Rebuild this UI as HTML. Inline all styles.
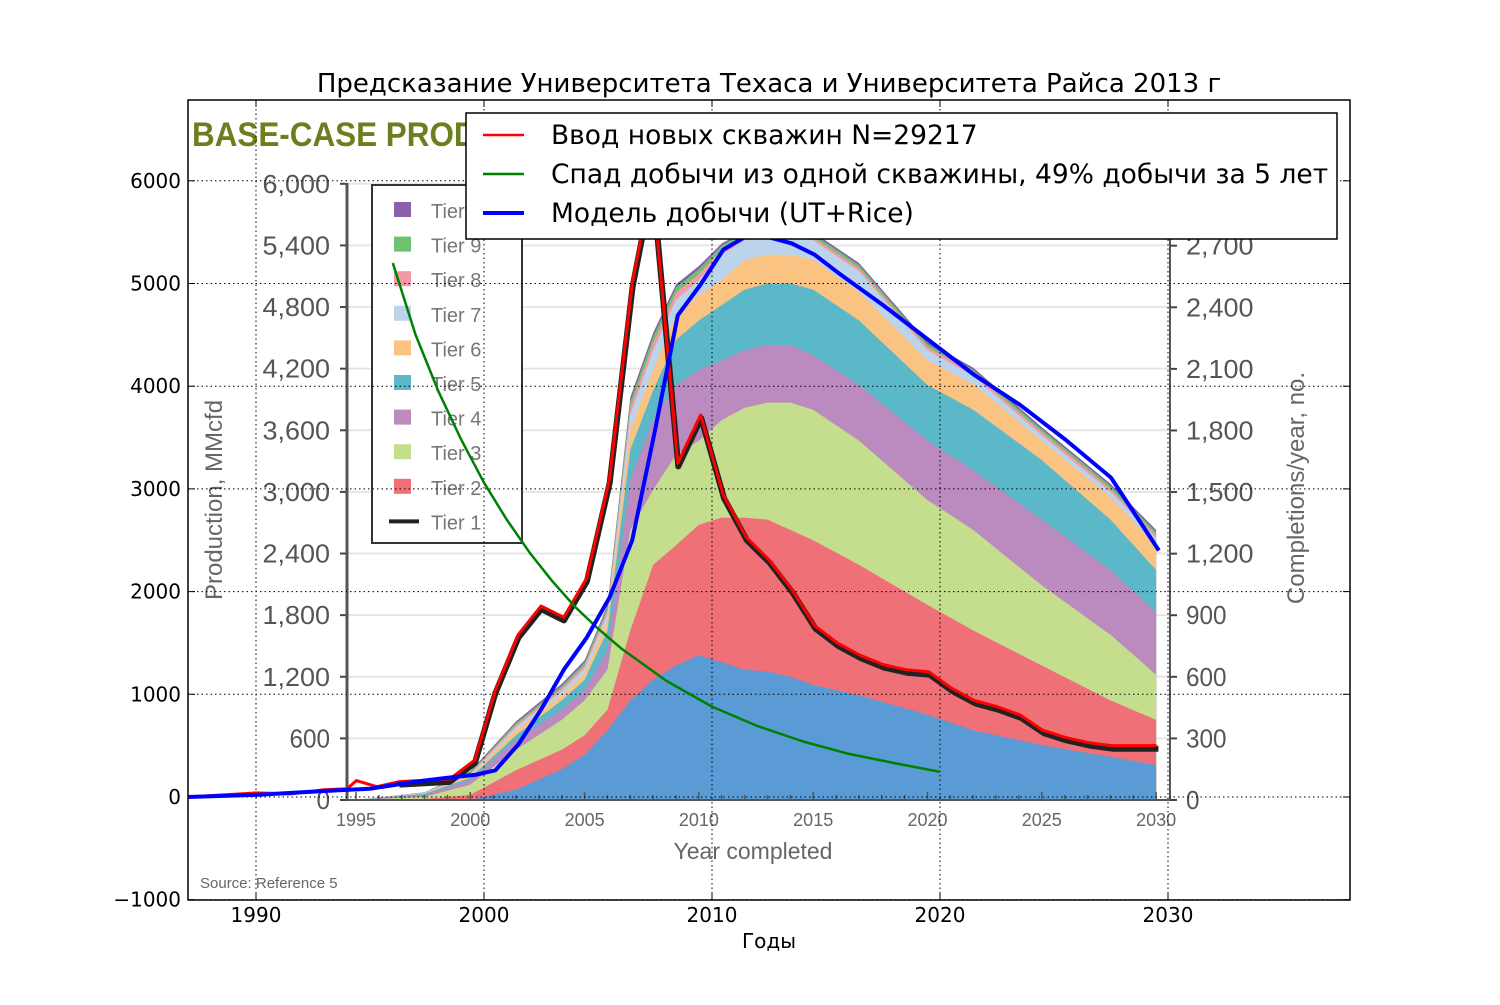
<!DOCTYPE html>
<html><head><meta charset="utf-8"><style>
body{margin:0;background:#fff}
svg text{font-family:"Liberation Sans","DejaVu Sans",sans-serif}
svg text.dv{font-family:"DejaVu Sans","Liberation Sans",sans-serif}
</style></head><body>
<svg id="chart" width="1500" height="1000">
<defs><clipPath id="plotclip"><rect x="188" y="100" width="1162" height="800"/></clipPath></defs>
<rect width="1500" height="1000" fill="#fff"/>
<g id="inner" clip-path="url(#plotclip)"></g>
<g id="outer"></g>
</svg>
<script>
// ---- inner (background) chart data ----
const tierYears=[1995,1998,2000,2002,2004,2005,2006,2007,2008,2009,2010,2011,2012,2013,2014,2015,2017,2020,2022,2025,2028,2030];
const tier1Top=[0,0,0,100,300,440,680,970,1170,1310,1410,1340,1270,1250,1200,1120,1020,830,680,535,420,340];
const tier2Top=[0,10,50,290,490,630,880,1650,2290,2480,2680,2750,2750,2730,2630,2530,2290,1900,1650,1310,970,780];
const tier3Top=[0,30,150,490,780,970,1270,2630,3020,3360,3500,3700,3820,3870,3870,3800,3500,2920,2630,2090,1610,1220];
const tier4Top=[0,50,195,585,880,1070,1460,3120,3700,4040,4190,4280,4380,4430,4430,4330,4040,3500,3210,2730,2240,1830];
const tier5Top=[0,60,215,630,970,1170,1650,3410,3990,4480,4670,4820,4970,5030,5030,4970,4670,4040,3800,3310,2730,2240];
const tier6Top=[0,65,235,680,1020,1230,1750,3600,4190,4720,4920,5060,5260,5310,5310,5260,4950,4280,4050,3500,2950,2480];
const tier7Top=[0,70,250,710,1060,1280,1810,3750,4380,4870,5060,5310,5450,5500,5480,5450,5150,4380,4130,3550,3000,2550];
const tier8Top=[0,72,260,730,1090,1310,1850,3820,4450,4940,5120,5360,5490,5530,5510,5480,5180,4410,4160,3580,3030,2580];
const tier9Top=[0,74,270,750,1110,1340,1880,3880,4510,4990,5170,5400,5520,5560,5540,5510,5210,4440,4190,3610,3060,2610];
const tier10Top=[0,76,280,765,1130,1360,1900,3920,4550,5020,5200,5420,5540,5580,5560,5530,5230,4460,4210,3630,3080,2630];
const tierColors=['#5b9bd5','#f07078','#c5de8e','#bb8abf','#5bb8c8','#fbc381','#bcd3ec','#f29aa8','#6fc070','#8860ac'];
const blackYears=[1996.9,1999.1,2000.2,2001.1,2002.1,2003.1,2004.1,2005.1,2006.1,2007.1,2007.6,2008.1,2009.1,2010.1,2011.1,2012.1,2013.1,2014.1,2015.1,2016.1,2017.1,2018.1,2019.1,2020.1,2021.1,2022.1,2023.1,2024.1,2025.1,2026.1,2027.1,2028.1,2030.1];
const blackVals=[75,88,180,520,790,930,875,1065,1545,2500,2785,2850,1625,1860,1470,1265,1155,1010,835,750,690,645,620,610,530,470,440,400,325,290,265,250,250];
const innerYTicks=['0','600','1,200','1,800','2,400','3,000','3,600','4,200','4,800','5,400','6,000'];
const innerRTicks=['0','300','600','900','1,200','1,500','1,800','2,100','2,400','2,700'];
const innerXTicks=['1995','2000','2005','2010','2015','2020','2025','2030'];
const innerLegend=['Tier 10','Tier 9','Tier 8','Tier 7','Tier 6','Tier 5','Tier 4','Tier 3','Tier 2','Tier 1'];
// ---- outer chart data ----
const redYears=[1987,1990,1991.5,1993,1994,1994.4,1995.3,1996.3,1998.5,1999.6,2000.5,2001.5,2002.5,2003.5,2004.5,2005.5,2006.5,2007,2007.5,2008.5,2009.5,2010.5,2011.5,2012.5,2013.5,2014.5,2015.5,2016.5,2017.5,2018.5,2019.5,2020.5,2021.5,2022.5,2023.5,2024.5,2025.5,2026.5,2027.5,2029.5];
const redVals=[0,40,30,70,80,160,100,150,175,360,1040,1580,1860,1750,2130,3090,5000,5570,5700,3250,3720,2940,2530,2310,2020,1670,1500,1380,1290,1240,1220,1060,940,880,800,650,580,530,500,500];
const greenYears=[1996,1997,1998,1999,2000,2001,2002,2003,2004,2005,2006,2008,2010,2012,2014,2016,2018,2020];
const greenVals=[5200,4500,3950,3480,3060,2700,2380,2100,1850,1640,1450,1130,880,690,540,420,330,245];
const blueYears=[1987,1990,1993.2,1995,1997,1998.5,1999.6,2000.5,2001.5,2002.5,2003.5,2004.5,2005.5,2006.5,2007.5,2008.5,2009.5,2010.5,2011.5,2012.5,2013.5,2014.5,2015.5,2017.5,2019.5,2021.5,2023.5,2025.5,2027.5,2029.6];
const blueVals=[0,20,60,80,150,190,215,260,510,850,1240,1550,1940,2500,3570,4690,4990,5330,5460,5450,5390,5280,5110,4790,4450,4110,3820,3480,3110,2400];
const outerXTicks=[1990,2000,2010,2020,2030];
const outerYTicks=[-1000,0,1000,2000,3000,4000,5000,6000];
const legendLabels=['Ввод новых скважин N=29217','Спад добычи из одной скважины, 49% добычи за 5 лет','Модель добычи (UT+Rice)'];
const legendColors=['#ff0000','#008000','#0000ff'];

const NS='http://www.w3.org/2000/svg';
function mk(tag,attrs,parent,text){const e=document.createElementNS(NS,tag);for(const k in attrs)e.setAttribute(k,attrs[k]);if(text!==undefined)e.textContent=text;parent.appendChild(e);return e;}
const X=y=>484+(y-2000)*22.8, Y=v=>797-v*0.1027;
const XI=y=>356+(y-1995)*22.86, YI=v=>800-v*0.1027, YR=c=>800-c*0.2053;
const inner=document.getElementById('inner'), outer=document.getElementById('outer');

innerYTicks.forEach((t,i)=>{const yy=YI(i*600);
 if(i>0){const g=mk('line',{x1:347,x2:1170,y1:yy,y2:yy,stroke:'#e6e6e6','stroke-width':2},inner);
 }
 const l=mk('text',{x:330,y:yy+9,'text-anchor':'end','font-size':26,fill:'#555',textLength:t.length*13.5,lengthAdjust:'spacingAndGlyphs'},inner,t);
 
 mk('line',{x1:340,x2:347,y1:yy,y2:yy,stroke:'#444','stroke-width':2},inner);});
innerRTicks.forEach((t,i)=>{const yy=YR(i*300);
 const l=mk('text',{x:1186,y:yy+9,'font-size':26,fill:'#555',textLength:t.length*13.5,lengthAdjust:'spacingAndGlyphs'},inner,t);
 
 mk('line',{x1:1170,x2:1177,y1:yy,y2:yy,stroke:'#444','stroke-width':2},inner);});
const tops=[tier1Top,tier2Top,tier3Top,tier4Top,tier5Top,tier6Top,tier7Top,tier8Top,tier9Top,tier10Top];
for(let k=tops.length-1;k>=0;k--){
 let d='M'+XI(tierYears[0])+','+YI(0);
 tierYears.forEach((y,i)=>{d+=' L'+XI(y).toFixed(1)+','+YI(tops[k][i]).toFixed(1);});
 d+=' L'+XI(tierYears[tierYears.length-1])+','+YI(0)+' Z';
 const a=mk('path',{d:d,fill:tierColors[k]},inner);
 }
mk('line',{x1:347,x2:347,y1:183,y2:800,stroke:'#555','stroke-width':3},inner);
mk('line',{x1:347,x2:1170,y1:800,y2:800,stroke:'#555','stroke-width':2},inner);
mk('line',{x1:1170,x2:1170,y1:183,y2:800,stroke:'#555','stroke-width':2},inner);
for(let y=1995;y<=2030;y++){mk('line',{x1:XI(y),x2:XI(y),y1:800,y2:y%5?795:792,stroke:'#555','stroke-width':1.5},inner);}
innerXTicks.forEach(t=>{const l=mk('text',{x:XI(+t),y:826,'text-anchor':'middle','font-size':18,fill:'#666'},inner,t);
 });
let tt=mk('text',{x:753,y:859,'text-anchor':'middle','font-size':23,fill:'#666'},inner,'Year completed');

tt=mk('text',{x:0,y:0,transform:'translate(222,500) rotate(-90)','text-anchor':'middle','font-size':24,fill:'#666'},inner,'Production, MMcfd');

tt=mk('text',{x:0,y:0,transform:'translate(1304,488) rotate(-90)','text-anchor':'middle','font-size':24,fill:'#666'},inner,'Completions/year, no.');

tt=mk('text',{x:200,y:888,'font-size':15,fill:'#666'},inner,'Source: Reference 5');

tt=mk('text',{x:192,y:146,'font-size':34,'font-weight':'bold',fill:'#6b7f1e',textLength:330,lengthAdjust:'spacingAndGlyphs'},inner,'BASE-CASE PRODUC');

const il=mk('rect',{x:372,y:185,width:150,height:358,fill:'#fff',stroke:'#333','stroke-width':2},inner);

const legendSw=[9,8,7,6,5,4,3,2,1];
innerLegend.forEach((t,i)=>{const yy=210+i*34.6;
 if(i<9){mk('rect',{x:394,y:yy-8,width:17,height:15,fill:tierColors[legendSw[i]]},inner);}
 else mk('line',{x1:389,x2:419,y1:yy,y2:yy,stroke:'#222','stroke-width':4},inner);
 const l=mk('text',{x:431,y:yy+8,'font-size':20,fill:'#777'},inner,t);
 });
let bd='';blackYears.forEach((y,i)=>{bd+=(i?' L':'M')+XI(y).toFixed(1)+','+YR(blackVals[i]).toFixed(1);});
const bl=mk('path',{d:bd,fill:'none',stroke:'#222','stroke-width':6,'stroke-linejoin':'round'},inner);


outerXTicks.forEach(t=>{const x=X(t);
 const g=mk('line',{x1:x,x2:x,y1:100,y2:900,stroke:'#000','stroke-width':1,'stroke-dasharray':'1.5,3'},outer);
 
 const l=mk('text',{x:x,y:922,'text-anchor':'middle','font-size':20,class:'dv'},outer,t);
 
 mk('line',{x1:x,x2:x,y1:900,y2:893,stroke:'#000'},outer);mk('line',{x1:x,x2:x,y1:100,y2:107,stroke:'#000'},outer);});
outerYTicks.forEach(t=>{const y=Y(t);
 const g=mk('line',{x1:188,x2:1350,y1:y,y2:y,stroke:'#000','stroke-width':1,'stroke-dasharray':'1.5,3'},outer);
 
 const l=mk('text',{x:181,y:y+7,'text-anchor':'end','font-size':20,class:'dv'},outer,t<0?'\u22121000':t);
 
 mk('line',{x1:188,x2:195,y1:y,y2:y,stroke:'#000'},outer);mk('line',{x1:1350,x2:1343,y1:y,y2:y,stroke:'#000'},outer);});
function line(xs,vs,color,w){let d='';xs.forEach((y,i)=>{d+=(i?' L':'M')+X(y).toFixed(1)+','+Y(vs[i]).toFixed(1);});
 const p=mk('path',{d:d,fill:'none',stroke:color,'stroke-width':w,'stroke-linejoin':'round'},outer);
 p.setAttribute('clip-path','url(#plotclip)');return p;}
const pr=line(redYears,redVals,'#ff0000',3);
const pg=line(greenYears,greenVals,'#008000',2.5);
const pb=line(blueYears,blueVals,'#0000ff',4);
const fr=mk('rect',{x:188,y:100,width:1162,height:800,fill:'none',stroke:'#000','stroke-width':1.5},outer);

const lg=mk('g',{},outer);
mk('rect',{x:466,y:113,width:871,height:126,fill:'#fff',stroke:'#000','stroke-width':1.5},lg);
legendLabels.forEach((t,i)=>{const y=135+i*39;
 mk('line',{x1:483,x2:524,y1:y,y2:y,stroke:legendColors[i],'stroke-width':i==2?4:2.5},lg);
 const l=mk('text',{x:551,y:y+9,'font-size':26.5,class:'dv'},lg,t);
 });
tt=mk('text',{x:769,y:92,'text-anchor':'middle','font-size':26,class:'dv'},outer,'Предсказание Университета Техаса и Университета Райса 2013 г');

tt=mk('text',{x:769,y:948,'text-anchor':'middle','font-size':20,class:'dv'},outer,'Годы');

</script>
</body></html>
